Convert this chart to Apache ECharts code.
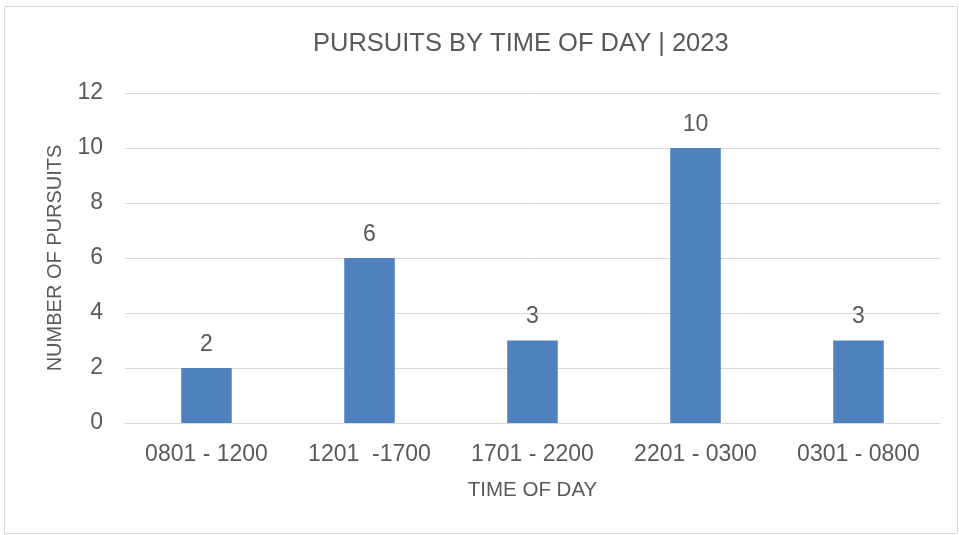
<!DOCTYPE html>
<html>
<head>
<meta charset="utf-8">
<script src="https://cdn.jsdelivr.net/npm/echarts@6/dist/echarts.min.js"></script>
<style>
  html, body { margin: 0; padding: 0; background: #fff; }
  #chart { width: 959px; height: 535px; }
</style>
</head>
<body>
<div id="chart"></div>
<script>
// data
var categories = ['0801 - 1200', '1201  -1700', '1701 - 2200', '2201 - 0300', '0301 - 0800'];
var pursuits = [2, 6, 3, 10, 3];
var yTicks = { min: 0, max: 12, step: 2 };

var txt = '#595959';
var font = '"Liberation Sans", Arial, sans-serif';

var chart = echarts.init(document.getElementById('chart'));
chart.setOption({
  animation: false,
  textStyle: { fontFamily: font },
  title: {
    text: 'PURSUITS BY TIME OF DAY | 2023',
    left: 308,
    top: 26,
    textStyle: { color: txt, fontSize: 25.5, fontWeight: 'normal', fontFamily: font }
  },
  graphic: [{
    type: 'rect',
    shape: { x: 4.5, y: 6.5, width: 953, height: 527 },
    style: { fill: 'none', stroke: '#d9d9d9', lineWidth: 1 },
    silent: true
  }],
  grid: { left: 125, right: 19, top: 93, bottom: 112, containLabel: false },
  xAxis: {
    type: 'category',
    data: categories,
    name: 'TIME OF DAY',
    nameLocation: 'middle',
    nameGap: 57,
    nameTextStyle: { color: txt, fontSize: 20.5 },
    axisLine: { lineStyle: { color: '#d9d9d9', width: 1 } },
    axisTick: { show: false },
    axisLabel: { color: txt, fontSize: 23, margin: 20 }
  },
  yAxis: {
    type: 'value',
    min: yTicks.min,
    max: yTicks.max,
    interval: yTicks.step,
    name: 'NUMBER OF PURSUITS',
    nameLocation: 'middle',
    nameGap: 60,
    nameTextStyle: { color: txt, fontSize: 20 },
    axisLine: { show: false },
    axisTick: { show: false },
    axisLabel: { color: txt, fontSize: 23, margin: 22 },
    splitLine: { lineStyle: { color: '#d9d9d9', width: 1 } }
  },
  series: [{
    type: 'bar',
    data: pursuits,
    barWidth: '31%',
    itemStyle: { color: '#4f81bd' },
    label: { show: true, position: 'top', distance: 12, color: txt, fontSize: 23 }
  }]
});
</script>
</body>
</html>
